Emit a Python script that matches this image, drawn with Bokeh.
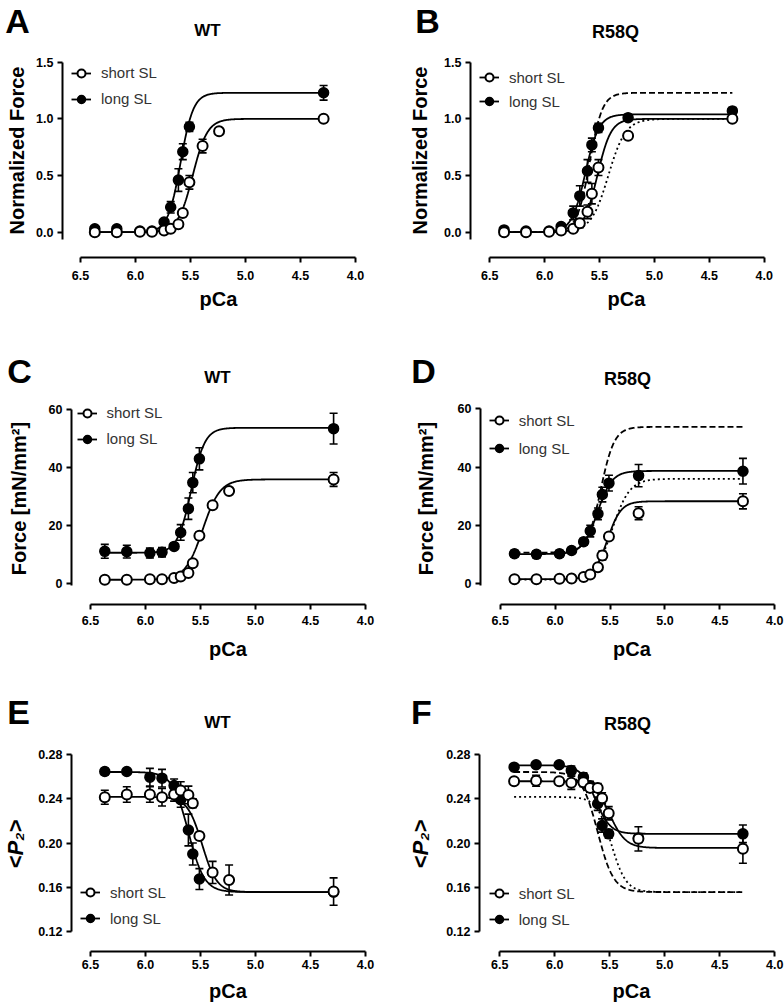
import numpy as np
from bokeh.plotting import figure
from bokeh.layouts import column, row
from bokeh.models import (Range1d, FixedTicker, NumeralTickFormatter, Label, Legend,
                          LegendItem, Whisker, TeeHead, ColumnDataSource)
from bokeh.embed import file_html
from bokeh.resources import INLINE

# ------------------------------------------------------------------ data
pca_wt_short = [6.37, 6.17, 5.96, 5.85, 5.74, 5.68, 5.61, 5.57, 5.51, 5.39, 5.24, 4.29]
pca_wt_long = [6.37, 6.17, 5.96, 5.85, 5.74, 5.68, 5.61, 5.57, 5.51, 4.29]
pca_r58q = [6.37, 6.17, 5.96, 5.85, 5.74, 5.68, 5.61, 5.57, 5.51, 5.24, 4.29]

# A: normalized force, WT
normF_wt_short = [0.0, 0.0, 0.005, 0.005, 0.015, 0.03, 0.07, 0.17, 0.44, 0.76, 0.89, 1.0]
normF_wt_short_err = [0.005, 0.005, 0.005, 0.005, 0.01, 0.01, 0.02, 0.03, 0.06, 0.06, 0.02, 0.01]
normF_wt_long = [0.03, 0.03, 0.01, 0.01, 0.09, 0.22, 0.46, 0.71, 0.93, 1.23]
normF_wt_long_err = [0.01, 0.01, 0.01, 0.01, 0.02, 0.05, 0.10, 0.07, 0.04, 0.065]
# B: normalized force, R58Q
normF_r58q_short = [0.0, 0.0, 0.005, 0.015, 0.03, 0.08, 0.18, 0.34, 0.57, 0.85, 1.0]
normF_r58q_short_err = [0.005, 0.005, 0.005, 0.01, 0.02, 0.04, 0.06, 0.09, 0.07, 0.02, 0.01]
normF_r58q_long = [0.02, 0.01, 0.01, 0.05, 0.17, 0.32, 0.54, 0.77, 0.92, 1.01, 1.07]
normF_r58q_long_err = [0.01, 0.01, 0.01, 0.02, 0.06, 0.09, 0.10, 0.06, 0.04, 0.03, 0.03]
# C: force, WT
force_wt_short = [1.4, 1.4, 1.6, 1.6, 2.0, 2.5, 3.7, 7.1, 16.6, 27.1, 32.0, 36.0]
force_wt_short_err = [0.3, 0.3, 0.3, 0.3, 0.3, 0.4, 0.6, 1.0, 1.2, 1.0, 1.0, 2.4]
force_wt_long = [11.2, 11.1, 10.6, 10.9, 12.9, 17.7, 25.9, 34.9, 43.1, 53.5]
force_wt_long_err = [2.4, 2.2, 1.7, 1.6, 1.0, 2.7, 3.7, 3.5, 3.8, 5.3]
# D: force, R58Q
force_r58q_short = [1.6, 1.6, 1.7, 1.8, 2.3, 3.2, 5.7, 9.7, 16.2, 24.2, 28.3]
force_r58q_short_err = [0.3, 0.3, 0.3, 0.3, 0.4, 0.6, 0.9, 1.5, 1.2, 2.2, 2.6]
force_r58q_long = [10.3, 10.1, 10.3, 11.4, 14.4, 18.1, 24.0, 30.6, 34.5, 37.1, 38.6]
force_r58q_long_err = [1.2, 1.2, 1.2, 1.0, 1.2, 2.0, 2.0, 2.5, 2.7, 3.8, 4.4]
# E: <P2>, WT
p2_wt_short = [0.2415, 0.244, 0.244, 0.2415, 0.244, 0.2476, 0.2436, 0.236, 0.2064, 0.1733, 0.1664, 0.156]
p2_wt_short_err = [0.0064, 0.007, 0.007, 0.008, 0.006, 0.008, 0.008, 0.004, 0.003, 0.01, 0.0136, 0.0124]
p2_wt_long = [0.2648, 0.2648, 0.2597, 0.2588, 0.2521, 0.2394, 0.2118, 0.19, 0.1673, 0.1555]
p2_wt_long_err = [0.003, 0.002, 0.008, 0.008, 0.006, 0.007, 0.0144, 0.01, 0.0095, 0.002]
# F: <P2>, R58Q
p2_r58q_short = [0.256, 0.2565, 0.256, 0.2546, 0.2551, 0.25, 0.25, 0.2406, 0.227, 0.2038, 0.1947]
p2_r58q_short_err = [0.003, 0.005, 0.003, 0.006, 0.004, 0.004, 0.004, 0.005, 0.006, 0.011, 0.013]
p2_r58q_long = [0.2688, 0.271, 0.271, 0.2658, 0.2597, 0.252, 0.2356, 0.2159, 0.2083, 0.2045, 0.2083]
p2_r58q_long_err = [0.002, 0.002, 0.002, 0.004, 0.004, 0.004, 0.006, 0.006, 0.004, 0.004, 0.008]

# Hill fit parameters: [value at low Ca (relaxed), value at high Ca (active), pCa50, nH]
fit_normF_wt_short = [0.0, 1.0, 5.48, 6.5]
fit_normF_wt_long = [0.0, 1.23, 5.59, 7.5]
fit_normF_r58q_short = [0.0, 1.0, 5.52, 7.0]
fit_normF_r58q_long = [0.0, 1.04, 5.63, 7.0]
fit_normF_wt_short_ref = [0.0, 1.0, 5.42, 5.5]
fit_force_wt_short = [1.4, 36.0, 5.48, 5.5]
fit_force_wt_long = [10.7, 53.8, 5.585, 7.0]
fit_force_r58q_short = [1.6, 28.3, 5.525, 7.0]
fit_force_r58q_long = [10.2, 38.7, 5.615, 6.5]
fit_p2_wt_short = [0.2418, 0.1555, 5.485, 6.5]
fit_p2_wt_long = [0.2644, 0.1555, 5.61, 6.0]
fit_p2_r58q_short = [0.256, 0.1955, 5.50, 6.0]
fit_p2_r58q_long = [0.2705, 0.2083, 5.63, 6.5]

x_ticks = [4.0, 4.5, 5.0, 5.5, 6.0, 6.5]
y_ticks_norm = [0.0, 0.5, 1.0, 1.5]
y_ticks_force = [0, 20, 40, 60]
y_ticks_p2 = [0.12, 0.16, 0.20, 0.24, 0.28]

FONT = "Liberation Sans"
PAGE_W = 784   # Bokeh's page template has no body margin: layout starts at (0, 0)


def hill(params, pca):
    relaxed, active, pca50, nh = params
    pca = np.asarray(pca)
    return relaxed + (active - relaxed) / (1.0 + 10.0 ** (nh * (pca - pca50)))


def make_header(top, height, items):
    """Strip holding the panel letters and panel titles (page-pixel coordinates)."""
    h = figure(width=PAGE_W, height=height, x_range=Range1d(0, PAGE_W),
               y_range=Range1d(height, 0), x_axis_type=None, y_axis_type=None,
               output_backend="svg", toolbar_location=None, title=None,
               min_border_left=0, min_border_right=0, min_border_top=0, min_border_bottom=0)
    h.outline_line_color = None
    h.xgrid.visible = False
    h.ygrid.visible = False
    for text, (px, py), size in items:
        h.add_layout(Label(x=px, y=py - top, text=text, text_font=FONT,
                           text_font_size=size, text_font_style="bold",
                           text_align="center", text_baseline="middle", text_color="black"))
    return h


def make_panel(lay, ylabel, yticks, yfmt, ybounds,
               short_x, short_y, short_e, long_x, long_y, long_e,
               fit_short, fit_long, ref_dashed=None, ref_dotted=None):
    x0, y0, w, h = lay["fig"]
    L = int(round(lay["ya_x"] - x0))
    R = int(round(x0 + w - lay["fr_x"]))
    T = int(round(lay["ft_y"] - y0))
    B = int(round(y0 + h - lay["xa_y"]))
    fl, fr, ft, fb = x0 + L, x0 + w - R, y0 + T, y0 + h - B
    kx = (lay["x40"] - lay["x65"]) / 2.5
    xs = 6.5 + (lay["x65"] - fl) / kx
    xe = 4.0 - (fr - lay["x40"]) / kx
    (v1, p1), (v2, p2) = lay["yv"]
    ky = (p1 - p2) / (v2 - v1)
    ys = v1 - (fb - p1) / ky
    ye = v1 + (p1 - ft) / ky

    p = figure(width=w, height=h, x_range=Range1d(xs, xe), y_range=Range1d(ys, ye),
               output_backend="svg", toolbar_location=None, title=None,
               min_border_left=L, min_border_right=R, min_border_top=T, min_border_bottom=B)
    p.outline_line_color = None
    p.xgrid.visible = False
    p.ygrid.visible = False

    for ax in (p.xaxis[0], p.yaxis[0]):
        ax.axis_line_width = 2
        ax.major_tick_line_width = 2
        ax.major_tick_out = 5
        ax.major_tick_in = 0
        ax.minor_tick_line_color = None
        ax.major_label_text_font = FONT
        ax.major_label_text_font_size = "12.5px"
        ax.major_label_text_font_style = "bold"
        ax.major_label_text_color = "black"
        ax.axis_label_text_font = FONT
        ax.axis_label_text_font_size = "20px"
        ax.axis_label_text_font_style = "bold"
        ax.axis_label_text_color = "black"
    xa = p.xaxis[0]
    xa.ticker = FixedTicker(ticks=x_ticks)
    xa.formatter = NumeralTickFormatter(format="0.0")
    xa.bounds = (4.0, 6.5)
    xa.axis_label = "pCa"
    xa.major_label_standoff = lay["xs1"]
    xa.axis_label_standoff = lay["xs2"]
    ya = p.yaxis[0]
    ya.ticker = FixedTicker(ticks=yticks)
    ya.formatter = NumeralTickFormatter(format=yfmt)
    ya.bounds = ybounds
    ya.axis_label = ylabel
    ya.major_label_standoff = 4
    ya.axis_label_standoff = lay["ys2"]
    if ylabel.startswith("<"):
        ya.axis_label_text_font_style = "bold italic"
        ya.axis_label_text_font_size = "22px"

    xx = np.linspace(6.37, 4.29, 400)
    if ref_dashed is not None:
        p.line(xx, hill(ref_dashed, xx), line_color="black", line_width=1.8, line_dash="6 3")
    if ref_dotted is not None:
        p.line(xx, hill(ref_dotted, xx), line_color="black", line_width=1.8, line_dash="2 3")
    c_short = p.line(xx, hill(fit_short, xx), line_color="black", line_width=1.8)
    c_long = p.line(xx, hill(fit_long, xx), line_color="black", line_width=1.8)

    for xv, yv, ev in ((long_x, long_y, long_e), (short_x, short_y, short_e)):
        yv_a, ev_a = np.asarray(yv), np.asarray(ev)
        src = ColumnDataSource(dict(x=xv, lo=yv_a - ev_a, hi=yv_a + ev_a))
        p.add_layout(Whisker(source=src, base="x", lower="lo", upper="hi", line_width=1.6,
                             line_color="black",
                             upper_head=TeeHead(size=8, line_width=1.6, line_color="black"),
                             lower_head=TeeHead(size=8, line_width=1.6, line_color="black")))
    s_long = p.scatter(long_x, long_y, marker="circle", size=10, fill_color="black",
                       line_color="black", line_width=1.5)
    s_short = p.scatter(short_x, short_y, marker="circle", size=10, fill_color="white",
                        line_color="black", line_width=2)

    gl, r1, sp = lay["leg"]
    pad = 4
    leg_left = gl - pad
    leg_bottom = r1 + 20 + sp + 10 + pad
    legend = Legend(items=[LegendItem(label="short SL", renderers=[c_short, s_short]),
                           LegendItem(label="long SL", renderers=[c_long, s_long])],
                    location=(leg_left - fl, fb - leg_bottom), margin=0, padding=pad,
                    spacing=sp, glyph_width=20, glyph_height=20, label_height=20,
                    label_standoff=10, label_text_font=FONT, label_text_font_size="15px",
                    label_text_color="#333333", background_fill_alpha=0,
                    border_line_alpha=0)
    p.add_layout(legend)
    return p


# ------------------------------------------------------------ layout (page pixels)
H1 = (0, 42)      # header strip row 1: top, height
R1 = (42, 306)
H2 = (348, 44)
R2 = (392, 298)
H3 = (690, 46)
R3 = (736, 268)
CW = 392          # column width

LAY = {
    "A": dict(fig=(0, R1[0], CW, R1[1]), ya_x=62, x65=80, x40=355, fr_x=374, ft_y=43,
              xa_y=257, yv=((0.0, 231.7), (1.5, 61.7)), xs1=8, xs2=5, ys2=5,
              leg=(71, 72.5, 6)),
    "B": dict(fig=(CW, R1[0], CW, R1[1]), ya_x=470.3, x65=489.3, x40=763.7, fr_x=782,
              ft_y=43, xa_y=257, yv=((0.0, 231.7), (1.5, 61.7)), xs1=8, xs2=5, ys2=10,
              leg=(479, 77, 4)),
    "C": dict(fig=(0, R2[0], CW, R2[1]), ya_x=70.7, x65=90, x40=365, fr_x=384, ft_y=392,
              xa_y=604, yv=((0, 583.3), (60, 409.3)), xs1=6, xs2=10, ys2=16,
              leg=(76.5, 412.5, 6)),
    "D": dict(fig=(CW, R2[0], CW, R2[1]), ya_x=480.3, x65=499.7, x40=774.3, fr_x=783,
              ft_y=392, xa_y=604, yv=((0, 583.3), (60, 408.3)), xs1=6, xs2=10, ys2=18,
              leg=(488.7, 420, 8)),
    "E": dict(fig=(0, R3[0], CW, R3[1]), ya_x=70.7, x65=90, x40=365, fr_x=384, ft_y=736,
              xa_y=951, yv=((0.12, 930.7), (0.28, 754.3)), xs1=3, xs2=8, ys2=7,
              leg=(80, 892.3, 6)),
    "F": dict(fig=(CW, R3[0], CW, R3[1]), ya_x=479.3, x65=499.3, x40=774.3, fr_x=783,
              ft_y=736, xa_y=951, yv=((0.12, 930.7), (0.28, 754.3)), xs1=3, xs2=8, ys2=10,
              leg=(488.7, 893.3, 6)),
}

head1 = make_header(H1[0], H1[1], [("A", (17, 20), "34px"), ("WT", (207, 30), "17px"),
                                   ("B", (427, 20), "34px"), ("R58Q", (615, 31), "18px")])
head2 = make_header(H2[0], H2[1], [("C", (19, 370), "34px"), ("WT", (217, 377), "17px"),
                                   ("D", (423, 370), "34px"), ("R58Q", (627, 378.5), "18px")])
head3 = make_header(H3[0], H3[1], [("E", (18, 711), "34px"), ("WT", (217, 722), "17px"),
                                   ("F", (421, 711), "34px"), ("R58Q", (627, 723.5), "18px")])

pA = make_panel(LAY["A"], "Normalized Force", y_ticks_norm, "0.0", (-0.06, 1.5),
                pca_wt_short, normF_wt_short, normF_wt_short_err,
                pca_wt_long, normF_wt_long, normF_wt_long_err,
                fit_normF_wt_short, fit_normF_wt_long)
pB = make_panel(LAY["B"], "Normalized Force", y_ticks_norm, "0.0", (-0.06, 1.5),
                pca_r58q, normF_r58q_short, normF_r58q_short_err,
                pca_r58q, normF_r58q_long, normF_r58q_long_err,
                fit_normF_r58q_short, fit_normF_r58q_long,
                ref_dashed=fit_normF_wt_long, ref_dotted=fit_normF_wt_short_ref)
pC = make_panel(LAY["C"], "Force [mN/mm²]", y_ticks_force, "0", (-0.6, 60),
                pca_wt_short, force_wt_short, force_wt_short_err,
                pca_wt_long, force_wt_long, force_wt_long_err,
                fit_force_wt_short, fit_force_wt_long)
pD = make_panel(LAY["D"], "Force [mN/mm²]", y_ticks_force, "0", (-0.6, 60),
                pca_r58q, force_r58q_short, force_r58q_short_err,
                pca_r58q, force_r58q_long, force_r58q_long_err,
                fit_force_r58q_short, fit_force_r58q_long,
                ref_dashed=fit_force_wt_long, ref_dotted=fit_force_wt_short)
pE = make_panel(LAY["E"], "<P₂>", y_ticks_p2, "0.00", (0.12, 0.28),
                pca_wt_short, p2_wt_short, p2_wt_short_err,
                pca_wt_long, p2_wt_long, p2_wt_long_err,
                fit_p2_wt_short, fit_p2_wt_long)
pF = make_panel(LAY["F"], "<P₂>", y_ticks_p2, "0.00", (0.12, 0.28),
                pca_r58q, p2_r58q_short, p2_r58q_short_err,
                pca_r58q, p2_r58q_long, p2_r58q_long_err,
                fit_p2_r58q_short, fit_p2_r58q_long,
                ref_dashed=fit_p2_wt_long, ref_dotted=fit_p2_wt_short)

layout = column(head1, row(pA, pB), head2, row(pC, pD), head3, row(pE, pF))
open("out.html", "w").write(file_html(layout, INLINE))
